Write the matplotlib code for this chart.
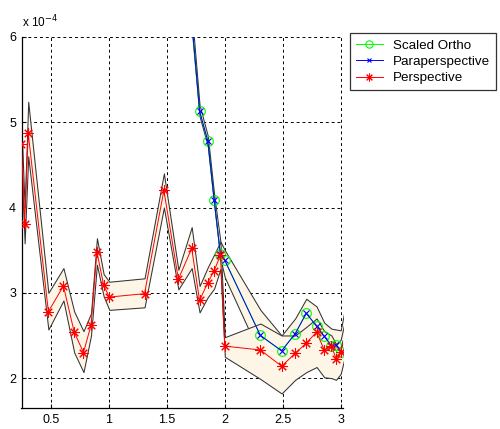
import numpy as np
import matplotlib
matplotlib.use('Agg')
import matplotlib.pyplot as plt
from matplotlib.ticker import FuncFormatter

plt.rcParams['font.family'] = ['Liberation Sans', 'DejaVu Sans']

scale = 1e-4

# erreur de reprojection (x 1e-4) pour chaque modele de camera
x_persp = [0.245, 0.272, 0.303, 0.477, 0.607, 0.70, 0.78, 0.845, 0.896, 0.954,
           1.003, 1.307, 1.474, 1.599, 1.714, 1.782, 1.853, 1.908, 1.962, 2.0,
           2.307, 2.49, 2.607, 2.703, 2.792, 2.858, 2.92, 2.96, 3.0, 3.1]
y_persp = [4.75, 3.81, 4.87, 2.78, 3.08, 2.54, 2.30, 2.62, 3.48, 3.09,
           2.95, 2.99, 4.20, 3.16, 3.52, 2.91, 3.12, 3.26, 3.44, 2.375,
           2.33, 2.14, 2.29, 2.41, 2.54, 2.33, 2.375, 2.23, 2.31, 2.85]
persp_hi = [4.95, 4.00, 5.24, 3.00, 3.29, 2.78, 2.55, 2.76, 3.64, 3.22,
            3.13, 3.17, 4.40, 3.27, 3.77, 3.08, 3.30, 3.45, 3.60, 2.48,
            2.64, 2.50, 2.50, 2.60, 2.70, 2.55, 2.50, 2.40, 2.45, 3.05]
persp_lo = [4.50, 3.58, 4.60, 2.57, 2.91, 2.30, 2.07, 2.50, 3.33, 2.96,
            2.80, 2.83, 4.00, 3.04, 3.29, 2.77, 2.95, 3.05, 3.28, 2.25,
            1.99, 1.82, 1.98, 2.07, 2.13, 2.01, 2.00, 1.98, 2.05, 2.60]

x_para = [1.714, 1.782, 1.853, 1.908, 1.962, 2.0, 2.307, 2.49, 2.607, 2.703,
          2.792, 2.858, 2.92, 2.96, 3.0, 3.1]
y_para = [6.20, 5.13, 4.78, 4.09, 3.45, 3.38, 2.50, 2.32, 2.52, 2.76,
          2.61, 2.49, 2.38, 2.39, 2.31, 2.90]
para_hi = [6.30, 5.20, 4.84, 4.15, 3.60, 3.50, 2.80, 2.50, 2.70, 2.93,
           2.84, 2.65, 2.58, 2.57, 2.56, 3.25]
para_lo = [6.10, 5.07, 4.72, 4.03, 3.40, 3.18, 2.27, 2.10, 2.30, 2.55,
           2.45, 2.30, 2.20, 2.20, 2.15, 2.60]

x_ortho = x_para
y_ortho = [6.20, 5.13, 4.78, 4.09, 3.45, 3.38, 2.50, 2.32, 2.52, 2.76,
           2.61, 2.49, 2.38, 2.39, 2.31, 2.90]

def s(v):
    return np.array(v) * scale

fig = plt.figure(figsize=(5, 4.29), dpi=100)
ax = fig.add_axes([0.043, 0.049, 0.643, 0.865])

creme = '#fdf5e6'
bord = (0.2, 0.2, 0.2)
ax.fill_between(x_para, s(para_lo), s(para_hi), facecolor=creme,
                edgecolor=bord, linewidth=0.75, zorder=1)
ax.fill_between(x_persp, s(persp_lo), s(persp_hi), facecolor=creme,
                edgecolor=bord, linewidth=0.75, zorder=1.5)

asterisque = (8, 2, 0)
ax.plot(x_ortho, s(y_ortho), '-', color=(0, 1, 0), marker='o',
        markersize=7, fillstyle='none', markeredgewidth=0.8, linewidth=0.7,
        label='Scaled Ortho', zorder=3)
ax.plot(x_para, s(y_para), '-', color=(0, 0, 1), marker='x',
        markersize=4.5, markeredgewidth=0.8, linewidth=0.7,
        label='Paraperspective', zorder=4)
ax.plot(x_persp, s(y_persp), '-', color=(1, 0, 0), marker=asterisque,
        markersize=7.5, markeredgewidth=0.75, linewidth=0.7,
        label='Perspective', zorder=5)

ax.set_xlim(0.245, 3.02)
ax.set_ylim(1.65e-4, 6e-4)
ax.set_xticks([0.5, 1, 1.5, 2, 2.5, 3])
ax.set_yticks(s([2, 3, 4, 5, 6]))
ax.xaxis.set_major_formatter(FuncFormatter(lambda v, p: '%g' % v))
ax.yaxis.set_major_formatter(FuncFormatter(lambda v, p: '%g' % round(v / scale, 6)))
ax.grid(True, color='black', linestyle=(0, (3, 3)), linewidth=0.7)
ax.set_axisbelow(True)
for cote in ['top', 'right']:
    ax.spines[cote].set_visible(False)
ax.spines['left'].set_linewidth(0.9)
ax.spines['bottom'].set_linewidth(0.9)
ax.tick_params(direction='in', length=3, width=0.8, labelsize=9, pad=4)

fig.text(0.043, 0.937, r'x 10$^{-4}$', fontsize=8.5, ha='left', va='baseline')

leg = fig.legend(loc='upper left', bbox_to_anchor=(0.70, 0.922),
                 fontsize=9.6, frameon=True, fancybox=False, edgecolor='black',
                 handlelength=2.0, handletextpad=0.75, labelspacing=0.3,
                 borderpad=0.45, borderaxespad=0, markerscale=0.75)
leg.get_frame().set_linewidth(0.9)

fig.savefig('out.png', dpi=100)
